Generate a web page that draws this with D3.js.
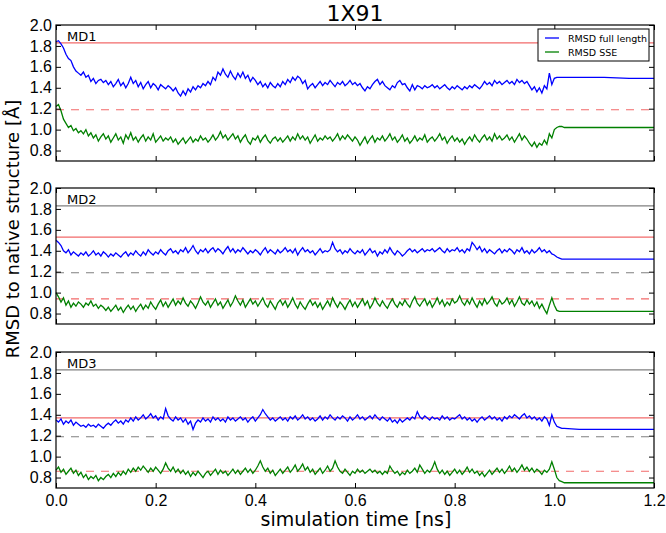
<!DOCTYPE html>
<html>
<head>
<meta charset="utf-8">
<script src="https://cdn.jsdelivr.net/npm/d3@7"></script>
<style>
  body { margin: 0; background: #fff; }
  svg { font-family: "DejaVu Sans", sans-serif; }
</style>
</head>
<body>
<svg id="chart" width="666" height="533"></svg>
<script>
// sampling times: every 0.005 ns up to 1.0, then the tail
var time = d3.range(0, 201).map(function(i){ return +(i * 0.005).toFixed(3); })
  .concat([1.005, 1.01, 1.015, 1.02, 1.05, 1.1, 1.15, 1.2]);

var md1Full = [1.84,1.85,1.82,1.78,1.72,1.68,1.66,1.60,1.56,1.54,1.52,
  1.55,1.50,1.52,1.46,1.49,1.44,1.47,1.48,1.45,1.47,
  1.43,1.46,1.41,1.44,1.48,1.42,1.45,1.40,1.44,1.50,
  1.44,1.47,1.41,1.45,1.39,1.43,1.46,1.40,1.44,1.42,
  1.38,1.43,1.41,1.39,1.42,1.40,1.37,1.40,1.35,1.32,
  1.37,1.33,1.39,1.36,1.41,1.38,1.42,1.40,1.44,1.42,
  1.46,1.43,1.50,1.47,1.55,1.52,1.58,1.53,1.50,1.56,
  1.51,1.48,1.54,1.50,1.55,1.49,1.52,1.46,1.50,1.47,
  1.43,1.46,1.41,1.44,1.40,1.45,1.42,1.40,1.44,1.41,
  1.46,1.43,1.48,1.45,1.50,1.47,1.51,1.49,1.44,1.47,
  1.39,1.42,1.44,1.40,1.43,1.46,1.42,1.45,1.43,1.47,
  1.44,1.41,1.45,1.43,1.46,1.42,1.44,1.47,1.43,1.45,
  1.42,1.44,1.40,1.37,1.41,1.39,1.43,1.46,1.48,1.43,
  1.46,1.42,1.40,1.38,1.42,1.40,1.45,1.47,1.43,1.44,
  1.40,1.37,1.43,1.38,1.42,1.41,1.39,1.42,1.40,1.41,
  1.43,1.40,1.42,1.39,1.41,1.43,1.40,1.38,1.41,1.39,
  1.42,1.40,1.38,1.41,1.39,1.42,1.40,1.43,1.41,1.39,
  1.42,1.46,1.43,1.45,1.42,1.47,1.44,1.46,1.43,1.45,
  1.47,1.44,1.46,1.43,1.48,1.45,1.47,1.44,1.46,1.42,
  1.38,1.41,1.36,1.40,1.35,1.42,1.39,1.54,1.43,1.49,
  1.50,1.50,1.50,1.50,1.50,1.50,1.49,1.49];

var md1Sse = [1.22,1.24,1.18,1.10,1.06,1.02,1.04,0.99,1.01,0.97,0.99,
  0.96,1.00,0.94,0.97,0.92,0.95,0.89,0.93,0.96,0.91,
  0.94,0.88,0.92,0.96,0.90,0.93,0.87,0.95,0.91,0.97,
  0.90,0.93,0.88,0.92,0.95,0.89,0.93,0.90,0.96,0.88,
  0.91,0.94,0.89,0.92,0.90,0.93,0.88,0.91,0.86,0.89,
  0.92,0.87,0.90,0.93,0.88,0.91,0.89,0.94,0.90,0.92,
  0.88,0.91,0.95,0.90,0.93,0.98,0.92,0.95,0.90,0.93,
  0.96,0.91,0.94,0.88,0.92,0.95,0.89,0.86,0.92,0.90,
  0.94,0.88,0.92,0.95,0.90,0.87,0.91,0.93,0.89,0.92,
  0.88,0.91,0.94,0.89,0.93,0.90,0.96,0.91,0.94,0.90,
  0.93,0.87,0.91,0.95,0.89,0.92,0.90,0.94,0.91,0.93,
  0.89,0.92,0.96,0.90,0.94,0.91,0.95,0.92,0.89,0.93,
  0.90,0.85,0.89,0.93,0.87,0.91,0.94,0.88,0.92,0.90,
  0.94,0.89,0.92,0.96,0.90,0.93,0.88,0.91,0.95,0.89,
  0.92,0.87,0.90,0.94,0.89,0.92,0.90,0.95,0.88,0.91,
  0.93,0.89,0.92,0.96,0.90,0.93,0.87,0.91,0.94,0.89,
  0.92,0.88,0.91,0.86,0.90,0.93,0.89,0.95,0.91,0.88,
  0.92,0.95,0.90,0.93,0.89,0.96,0.91,0.94,0.90,0.92,
  0.95,0.90,0.93,0.88,0.92,0.96,0.90,0.94,0.91,0.87,
  0.84,0.88,0.83,0.87,0.85,0.90,0.86,0.96,0.92,1.00,
  1.02,1.03,1.03,1.02,1.02,1.02,1.02,1.02];

var md2Full = [1.50,1.48,1.45,1.40,1.38,1.41,1.36,1.39,1.37,1.35,1.38,
  1.36,1.39,1.35,1.37,1.40,1.36,1.38,1.35,1.39,1.37,
  1.34,1.37,1.35,1.38,1.36,1.34,1.37,1.39,1.35,1.38,
  1.36,1.40,1.37,1.35,1.39,1.36,1.41,1.38,1.36,1.39,
  1.37,1.41,1.38,1.36,1.40,1.42,1.38,1.40,1.37,1.41,
  1.39,1.43,1.38,1.41,1.45,1.40,1.37,1.41,1.39,1.42,
  1.38,1.41,1.43,1.39,1.42,1.40,1.37,1.41,1.44,1.39,
  1.42,1.38,1.41,1.39,1.43,1.40,1.37,1.40,1.38,1.41,
  1.39,1.36,1.40,1.43,1.38,1.41,1.39,1.37,1.41,1.38,
  1.40,1.43,1.39,1.41,1.38,1.42,1.36,1.40,1.43,1.39,
  1.41,1.38,1.40,1.36,1.39,1.42,1.38,1.40,1.39,1.41,
  1.48,1.42,1.39,1.41,1.37,1.40,1.38,1.42,1.39,1.37,
  1.40,1.38,1.41,1.36,1.39,1.42,1.38,1.40,1.35,1.39,
  1.37,1.41,1.38,1.43,1.39,1.36,1.40,1.38,1.35,1.37,
  1.40,1.42,1.39,1.41,1.38,1.40,1.42,1.39,1.41,1.40,
  1.42,1.39,1.41,1.43,1.40,1.38,1.42,1.39,1.41,1.40,
  1.43,1.39,1.41,1.38,1.42,1.40,1.48,1.45,1.41,1.44,
  1.39,1.42,1.38,1.41,1.39,1.37,1.40,1.42,1.38,1.41,
  1.39,1.42,1.40,1.37,1.41,1.39,1.43,1.38,1.40,1.37,
  1.41,1.38,1.40,1.43,1.39,1.41,1.38,1.40,1.37,1.36,
  1.34,1.33,1.32,1.32,1.32,1.32,1.32,1.32];

var md2Sse = [1.00,0.96,0.91,0.95,0.88,0.92,0.86,0.90,0.87,0.91,0.89,
  0.86,0.90,0.88,0.92,0.87,0.89,0.85,0.88,0.86,0.83,
  0.86,0.82,0.85,0.88,0.83,0.86,0.81,0.85,0.88,0.84,
  0.87,0.82,0.86,0.89,0.84,0.88,0.85,0.91,0.87,0.84,
  0.89,0.93,0.87,0.91,0.86,0.90,0.94,0.88,0.92,0.89,
  0.95,0.90,0.87,0.92,0.89,0.85,0.90,0.96,0.91,0.88,
  0.92,0.86,0.90,0.94,0.88,0.91,0.85,0.89,0.93,0.87,
  0.91,0.97,0.92,0.88,0.93,0.86,0.90,0.94,0.89,0.92,
  0.87,0.91,0.95,0.89,0.86,0.92,0.88,0.84,0.90,0.93,
  0.88,0.92,0.86,0.90,0.95,0.89,0.85,0.91,0.87,0.84,
  0.89,0.93,0.88,0.91,0.86,0.90,0.84,0.88,0.92,0.87,
  0.95,0.90,0.86,0.91,0.88,0.84,0.89,0.93,0.87,0.91,
  0.86,0.90,0.94,0.88,0.92,0.85,0.89,0.95,0.90,0.87,
  0.92,0.88,0.85,0.90,0.94,0.89,0.86,0.91,0.88,0.93,
  0.89,0.86,0.92,0.96,0.90,0.87,0.91,0.94,0.88,0.92,
  0.86,0.90,0.95,0.89,0.93,0.87,0.91,0.88,0.94,0.90,
  0.92,0.97,0.91,0.88,0.93,0.89,0.95,0.90,0.86,0.92,
  0.88,0.94,0.89,0.92,0.96,0.90,0.87,0.93,0.89,0.91,
  0.95,0.89,0.93,0.87,0.91,0.96,0.90,0.88,0.93,0.89,
  0.92,0.87,0.91,0.85,0.89,0.84,0.80,0.88,0.95,0.88,
  0.83,0.82,0.82,0.82,0.82,0.82,0.82,0.82];

var md3Full = [1.35,1.33,1.36,1.31,1.34,1.32,1.35,1.30,1.33,1.31,1.29,
  1.30,1.28,1.31,1.29,1.30,1.28,1.31,1.29,1.27,1.30,
  1.32,1.30,1.33,1.35,1.32,1.34,1.31,1.35,1.33,1.37,
  1.34,1.38,1.35,1.37,1.40,1.36,1.38,1.41,1.37,1.39,
  1.35,1.38,1.36,1.46,1.39,1.36,1.34,1.38,1.35,1.37,
  1.33,1.36,1.31,1.34,1.26,1.32,1.35,1.33,1.37,1.34,
  1.36,1.33,1.38,1.35,1.37,1.34,1.36,1.33,1.38,1.35,
  1.37,1.34,1.36,1.38,1.35,1.37,1.33,1.36,1.38,1.34,
  1.37,1.40,1.45,1.41,1.38,1.35,1.37,1.34,1.36,1.38,
  1.35,1.37,1.34,1.38,1.36,1.39,1.35,1.37,1.40,1.36,
  1.38,1.35,1.37,1.34,1.36,1.39,1.35,1.38,1.36,1.40,
  1.37,1.35,1.38,1.36,1.39,1.37,1.34,1.38,1.35,1.37,
  1.40,1.36,1.38,1.35,1.37,1.39,1.36,1.40,1.37,1.35,
  1.38,1.36,1.34,1.37,1.33,1.35,1.32,1.36,1.33,1.35,
  1.37,1.35,1.38,1.36,1.43,1.38,1.36,1.39,1.37,1.35,
  1.38,1.36,1.37,1.35,1.39,1.36,1.38,1.35,1.37,1.36,
  1.38,1.40,1.36,1.38,1.35,1.37,1.34,1.36,1.33,1.36,
  1.38,1.35,1.37,1.39,1.36,1.38,1.35,1.37,1.34,1.38,
  1.36,1.39,1.37,1.40,1.38,1.36,1.39,1.41,1.37,1.39,
  1.36,1.38,1.35,1.37,1.34,1.38,1.36,1.30,1.40,1.33,
  1.29,1.28,1.27,1.27,1.26,1.26,1.26,1.26];

var md3Sse = [0.87,0.90,0.85,0.88,0.83,0.86,0.89,0.84,0.87,0.82,0.85,
  0.80,0.83,0.78,0.81,0.79,0.82,0.77,0.80,0.78,0.81,
  0.83,0.80,0.84,0.81,0.85,0.82,0.86,0.83,0.88,0.85,
  0.89,0.86,0.90,0.87,0.91,0.88,0.85,0.89,0.86,0.90,
  0.87,0.84,0.88,0.94,0.89,0.86,0.90,0.85,0.88,0.84,
  0.87,0.83,0.86,0.81,0.85,0.82,0.86,0.83,0.80,0.84,
  0.86,0.82,0.85,0.88,0.83,0.87,0.84,0.86,0.82,0.85,
  0.88,0.84,0.87,0.83,0.86,0.89,0.85,0.88,0.84,0.87,
  0.91,0.96,0.90,0.86,0.89,0.84,0.87,0.82,0.85,0.88,
  0.84,0.87,0.90,0.85,0.88,0.92,0.86,0.89,0.93,0.87,
  0.90,0.85,0.88,0.83,0.86,0.89,0.84,0.87,0.91,0.86,
  0.89,0.96,0.90,0.86,0.84,0.88,0.85,0.82,0.86,0.84,
  0.88,0.85,0.87,0.84,0.86,0.88,0.85,0.87,0.84,0.86,
  0.83,0.86,0.84,0.91,0.87,0.84,0.86,0.82,0.85,0.83,
  0.87,0.84,0.86,0.89,0.85,0.92,0.88,0.84,0.87,0.85,
  0.89,0.95,0.88,0.84,0.87,0.83,0.86,0.82,0.85,0.88,
  0.84,0.87,0.83,0.86,0.90,0.85,0.88,0.84,0.86,0.82,
  0.85,0.81,0.84,0.87,0.83,0.86,0.89,0.85,0.88,0.84,
  0.87,0.91,0.86,0.89,0.85,0.88,0.92,0.87,0.90,0.86,
  0.89,0.85,0.88,0.86,0.83,0.87,0.85,0.88,0.95,0.88,
  0.80,0.77,0.76,0.75,0.75,0.75,0.75,0.75];

var panelNames = ["MD1", "MD2", "MD3"];
var fullSeries = [md1Full, md2Full, md3Full];
var sseSeries = [md1Sse, md2Sse, md3Sse];
// reference levels: MD1 levels (gray) and this run's levels (red)
var refFull = [1.83, 1.53, 1.37];
var refSse = [1.19, 0.94, 0.86];
var legendLabels = ["RMSD full length", "RMSD SSE"];
var xTicks = [0, 0.2, 0.4, 0.6, 0.8, 1.0, 1.2];
var yTicks = [0.8, 1.0, 1.2, 1.4, 1.6, 1.8, 2.0];

var svg = d3.select("#chart");
var left = 56, right = 654, ph = 136;
var tops = [25, 188, 352];

var x = d3.scaleLinear().domain([0, 1.2]).range([left, right]);
var y = d3.scaleLinear().domain([0.7, 2.0]).range([ph, 0]);

var line = function(vals){
  return d3.line()
    .x(function(d, i){ return x(time[i]); })
    .y(function(d){ return y(d); })(vals);
};

panelNames.forEach(function(name, p){
  var g = svg.append("g").attr("transform", "translate(0," + tops[p] + ")");

  // gray = MD1 reference, only in the other panels
  if (p > 0) {
    g.append("line").attr("x1", left).attr("x2", right)
      .attr("y1", y(refFull[0])).attr("y2", y(refFull[0]))
      .attr("stroke", "#808080").attr("stroke-width", 1.2);
    g.append("line").attr("x1", left).attr("x2", right)
      .attr("y1", y(refSse[0])).attr("y2", y(refSse[0]))
      .attr("stroke", "#808080").attr("stroke-width", 1.2)
      .attr("stroke-dasharray", "8,7");
  }
  g.append("line").attr("x1", left).attr("x2", right)
    .attr("y1", y(refFull[p])).attr("y2", y(refFull[p]))
    .attr("stroke", "#f26a6a").attr("stroke-width", 1.2);
  g.append("line").attr("x1", left).attr("x2", right)
    .attr("y1", y(refSse[p])).attr("y2", y(refSse[p]))
    .attr("stroke", "#f26a6a").attr("stroke-width", 1.2)
    .attr("stroke-dasharray", "8,7");

  g.append("path").attr("d", line(fullSeries[p]))
    .attr("fill", "none").attr("stroke", "#0000ff").attr("stroke-width", 1.3);
  g.append("path").attr("d", line(sseSeries[p]))
    .attr("fill", "none").attr("stroke", "#008000").attr("stroke-width", 1.3);

  // axes: ticks inward on every side
  var ya = g.append("g").attr("transform", "translate(" + left + ",0)")
    .call(d3.axisLeft(y).tickValues(yTicks).tickFormat(d3.format(".1f"))
      .tickSizeInner(-5).tickSizeOuter(0).tickPadding(4));
  ya.selectAll("text").attr("font-size", 16).attr("fill", "#000");

  g.append("g").attr("transform", "translate(" + right + ",0)")
    .call(d3.axisRight(y).tickValues(yTicks).tickFormat("")
      .tickSizeInner(-5).tickSizeOuter(0));
  g.append("g")
    .call(d3.axisTop(x).tickValues(xTicks).tickFormat("")
      .tickSizeInner(-5).tickSizeOuter(0));
  var xa = g.append("g").attr("transform", "translate(0," + ph + ")")
    .call(d3.axisBottom(x).tickValues(xTicks)
      .tickFormat(p === 2 ? d3.format(".1f") : "")
      .tickSizeInner(-5).tickSizeOuter(0).tickPadding(7));
  xa.selectAll("text").attr("font-size", 16).attr("fill", "#000");
  g.selectAll(".domain").remove();
  g.selectAll(".tick line").attr("stroke", "#000");

  g.append("rect").attr("x", left).attr("y", 0)
    .attr("width", right - left).attr("height", ph)
    .attr("fill", "none").attr("stroke", "#000").attr("stroke-width", 1.2);

  g.append("text").attr("x", 67).attr("y", 16)
    .attr("font-size", 13).text(name);

  if (p === 0) {
    var lg = g.append("g").attr("transform", "translate(538,4)");
    lg.append("rect").attr("width", 111).attr("height", 32)
      .attr("fill", "#fff").attr("stroke", "#000").attr("stroke-width", 1);
    [["#0000ff", 0], ["#008000", 1]].forEach(function(c){
      lg.append("line").attr("x1", 7).attr("x2", 21)
        .attr("y1", 9 + c[1] * 14).attr("y2", 9 + c[1] * 14)
        .attr("stroke", c[0]).attr("stroke-width", 1.3);
      lg.append("text").attr("x", 30).attr("y", 12.5 + c[1] * 14)
        .attr("font-size", 9.5).text(legendLabels[c[1]]);
    });
  }
});

svg.append("text").attr("x", 355).attr("y", 21)
  .attr("text-anchor", "middle").attr("font-size", 22).text("1X91");
svg.append("text").attr("x", 356).attr("y", 526)
  .attr("text-anchor", "middle").attr("font-size", 19).text("simulation time [ns]");
svg.append("text")
  .attr("transform", "translate(19,229) rotate(-90)")
  .attr("text-anchor", "middle").attr("font-size", 18)
  .text("RMSD to native structure [Å]");
</script>
</body>
</html>
